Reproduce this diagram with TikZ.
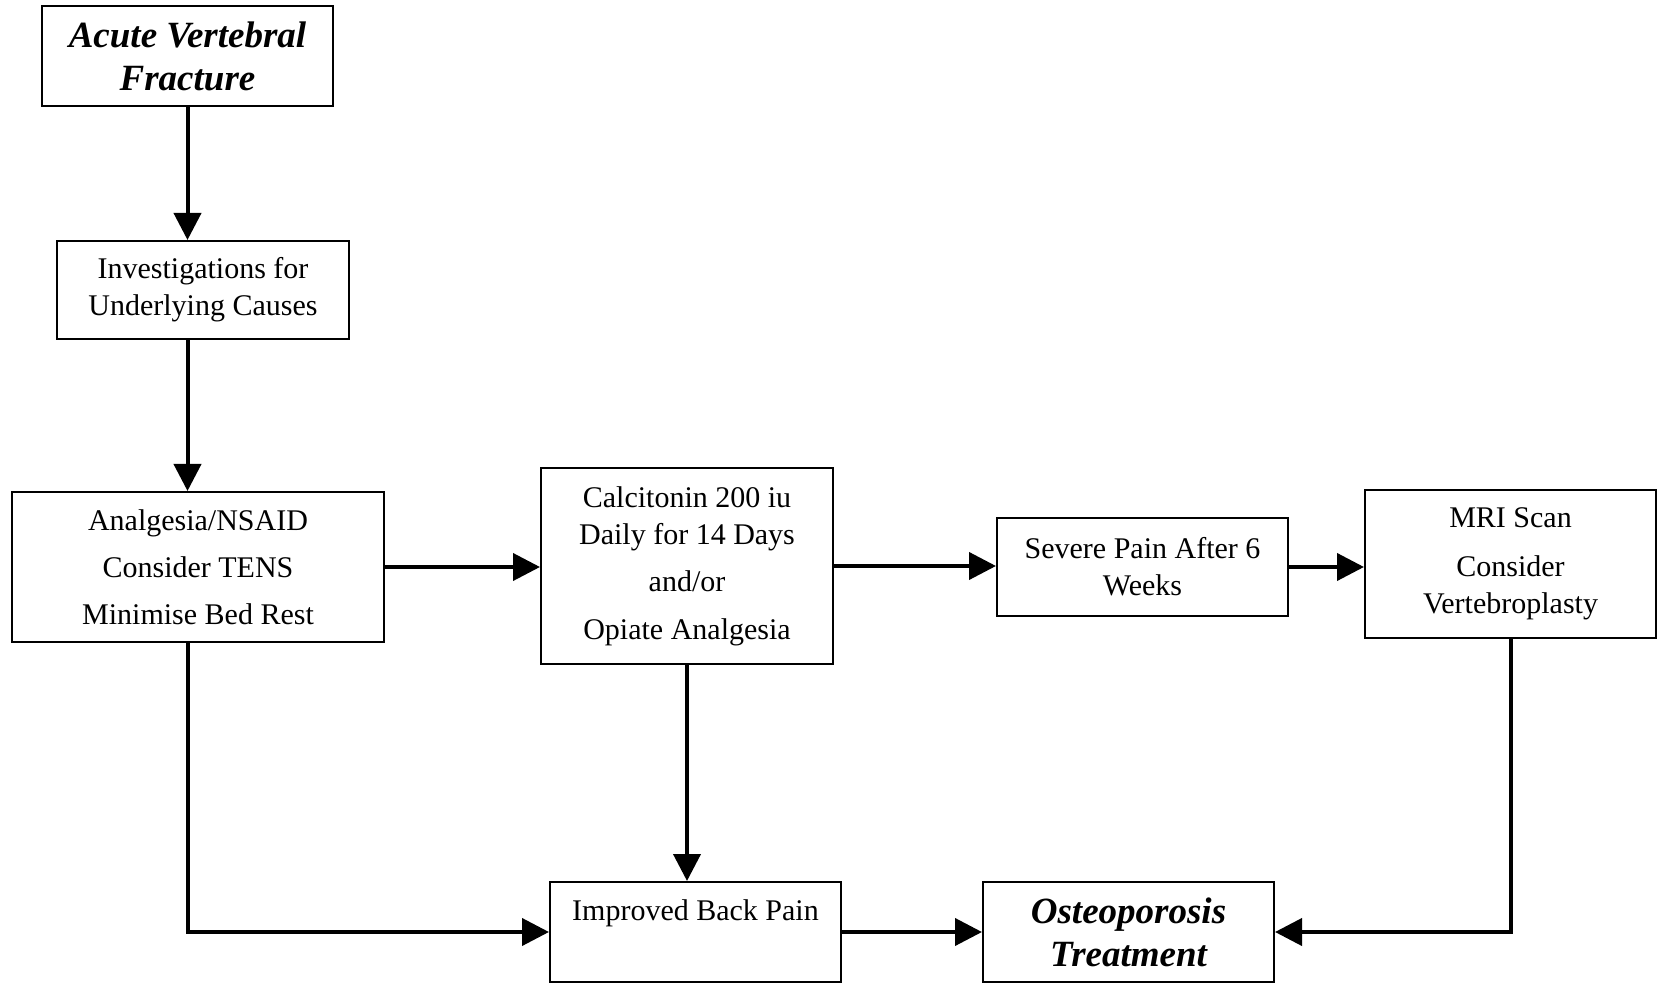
\documentclass[tikz,border=0pt]{standalone}
\usepackage{fontspec}
\setmainfont{Liberation Serif}
\usetikzlibrary{arrows.meta}
\begin{document}
\begin{tikzpicture}[x=0.5pt, y=-0.5pt]
\tikzstyle{box} = [draw, line width=1pt, align=center, inner sep=0pt, minimum width=145.5pt, font=\fontsize{15}{18.5}\selectfont]
\tikzstyle{bigbox} = [box, font=\fontsize{18.5}{21.5}\selectfont\bfseries\itshape]
\tikzstyle{arr} = [line width=2pt, -{Triangle[length=13.5pt, width=13.5pt]}]

\useasboundingbox (0,0) rectangle (1658,983);

\node[bigbox, minimum height=50pt] (acute) at (187.5,56) {Acute Vertebral\\Fracture};
\node[box, minimum width=146pt, minimum height=49pt] (invest) at (203,290) {Investigations for\\Underlying Causes};
\node[box, minimum width=186pt, minimum height=75pt] (analg) at (198,567) {Analgesia/NSAID\\[5pt]Consider TENS\\[5pt]Minimise Bed Rest};
\node[box, minimum width=146pt, minimum height=98pt] (calc) at (687,566) {Calcitonin 200 iu\\Daily for 14 Days\\[5pt]and/or\\[5.5pt]Opiate Analgesia};
\node[box, minimum height=49pt] (severe) at (1142.5,567) {Severe Pain After 6\\Weeks};
\node[box, minimum height=74pt] (mri) at (1510.5,564) {MRI Scan\\[6pt]Consider\\Vertebroplasty};
\node[box, text height=19pt, text depth=31pt] (improved) at (695.5,932) {Improved Back Pain};
\node[bigbox, minimum height=50pt] (osteo) at (1128.5,932) {Osteoporosis\\Treatment};

\draw[arr] (acute.south) -- (acute.south |- invest.north);
\draw[arr] (invest.south -| acute) -- (analg.north -| acute);
\draw[arr] (analg.east) -- (analg.east -| calc.west);
\draw[arr] (calc.east) -- (calc.east -| severe.west);
\draw[arr] (severe.east) -- (severe.east -| mri.west);
\draw[arr] (calc.south) -- (calc.south |- improved.north);
\draw[arr] (analg.south -| acute) |- (improved.west);
\draw[arr] (improved.east) -- (osteo.west);
\draw[arr] (mri.south) |- (osteo.east);
\end{tikzpicture}
\end{document}
